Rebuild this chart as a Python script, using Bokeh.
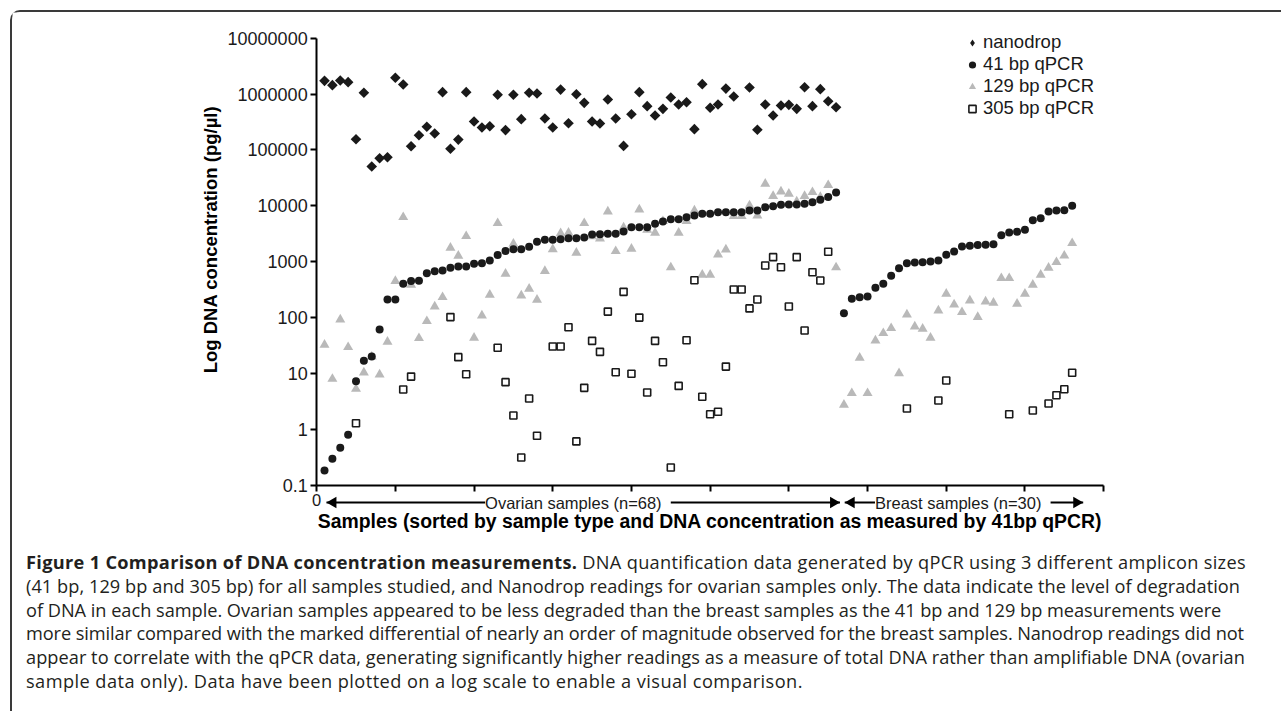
import numpy as np
from bokeh.plotting import figure
from bokeh.models import (ColumnDataSource, Range1d, FixedTicker, CustomJSTickFormatter,
                          Legend, LegendItem, Label, Div)
from bokeh.layouts import column
from bokeh.embed import file_html
from bokeh.resources import INLINE

nan = float("nan")

# ---------------- data ----------------
ovarian_samples = list(range(1, 67))
breast_samples = list(range(67, 97))

nanodrop_ovarian = [
    1.72e6, 1.44e6, 1.74e6, 1.63e6, 1.55e5, 1.05e6, 5.05e4, 7.1e4, 7.4e4, 1.95e6,
    1.48e6, 1.16e5, 1.83e5, 2.59e5, 1.96e5, 1.08e6, 1.05e5, 1.53e5, 1.08e6, 3.22e5,
    2.52e5, 2.65e5, 9.7e5, 2.26e5, 9.7e5, 3.55e5, 1.05e6, 1.02e6, 3.65e5, 2.52e5,
    1.2e6, 3.0e5, 9.9e5, 6.95e5, 3.22e5, 2.97e5, 7.97e5, 3.65e5, 1.18e5, 4.35e5,
    1.08e6, 6.06e5, 4.12e5, 5.43e5, 8.65e5, 6.49e5, 7.13e5, 2.35e5, 1.5e6, 5.66e5,
    6.49e5, 1.25e6, 9.0e5, nan, 1.31e6, 2.29e5, 6.49e5, 4.12e5, 6.22e5, 6.4e5,
    5.43e5, 1.32e6, 6.06e5, 1.22e6, 7.43e5, 5.8e5]

qpcr41_ovarian = [
    0.184, 0.30, 0.47, 0.80, 7.3, 16.9, 20.1, 61, 211, 211,
    403, 450, 455, 624, 677, 696, 778, 820, 820, 916,
    939, 1050, 1320, 1550, 1675, 1675, 1845, 2270, 2467, 2467,
    2530, 2630, 2630, 2710, 3080, 3100, 3150, 3160, 3470, 4140,
    4140, 4140, 4760, 5240, 5760, 5760, 6250, 6700, 7190, 7190,
    7690, 7690, 7690, 7690, 8240, 8240, 9440, 9840, 10400, 10550,
    10550, 10850, 11600, 12800, 14300, 17300]
qpcr41_breast = [
    120, 217, 232, 238, 341, 403, 560, 766, 940, 968,
    982, 1010, 1050, 1335, 1521, 1870, 1925, 1980, 2005, 2060,
    2980, 3330, 3430, 3720, 5520, 6000, 7900, 8240, 8340, 10000]

qpcr129_ovarian = [
    32.6, 8.0, 92.5, 29.5, 5.3, 10.4, 20, 9.6, 36.9, 449,
    6250, 386, 42.8, 86.3, 158, 232, 1776, 1275, 2860, 43.5,
    109, 256, 4890, 608, 2090, 248, 327, 208, 680, 1670,
    3220, 3290, 1442, 4890, 2825, 2600, 7900, 1543, 4090, 1703,
    8590, 3720, 3290, 5310, 790, 3290, 5310, 8240, 584, 584,
    1345, 1650, 6520, 6520, 10100, 6700, 24700, 14900, 18000, 16400,
    11900, 14900, 17500, 14300, 23400, 790]
qpcr129_breast = [
    2.75, 4.45, 19.1, 4.45, 38.9, 52.6, 64.6, 10.1, 113, 69.3,
    63, 43.5, 134, 267, 171, 125, 202, 102, 194, 184,
    507, 507, 177, 267, 386, 584, 778, 980, 1280, 2140]

qpcr305_ovarian = [
    nan, nan, nan, nan, 1.29, nan, nan, nan, nan, nan,
    5.18, 8.8, nan, nan, nan, nan, 102, 19.6, 9.7, nan,
    nan, nan, 28.8, 7.0, 1.77, 0.314, 3.57, 0.77, nan, 30.4,
    30.4, 67.3, 0.61, 5.54, 38.4, 24.4, 128, 10.5, 289, 9.9,
    100, 4.57, 38.4, 15.9, 0.208, 6.0, 39.4, 467, 3.83, 1.87,
    2.07, 13.3, 319, 319, 146, 211, 855, 1205, 798, 158,
    1205, 58.8, 649, 462, 1510, nan]
qpcr305_breast = [
    nan, nan, nan, nan, nan, nan, nan, nan, 2.37, nan,
    nan, nan, 3.29, 7.5, nan, nan, nan, nan, nan, nan,
    nan, 1.87, nan, nan, 2.18, nan, 2.90, 4.09, 5.24, 10.3]

series_names = ["nanodrop", "41 bp qPCR", "129 bp qPCR", "305 bp qPCR"]

y_tick_values = [0.1, 1, 10, 100, 1000, 10000, 100000, 1000000, 10000000]
y_tick_labels = ["0.1", "1", "10", "100", "1000", "10000", "100000", "1000000", "10000000"]
x_tick_values = [0, 10, 20, 30, 40, 50, 60, 70, 80, 90, 100]
x_tick_labels = ["0", "", "", "", "", "", "", "", "", "", ""]

group_labels = ["Ovarian samples (n=68)", "Breast samples (n=30)"]
group_spans = [(1.25, 66.5), (67.1, 97.4)]      # extent of each group arrow (sample axis units)
group_label_x = [33.2, 82.1]

y_title = "Log DNA concentration (pg/µl)"
x_title = "Samples (sorted by sample type and DNA concentration as measured by 41bp qPCR)"

caption_title = "Figure 1 Comparison of DNA concentration measurements."
caption_lines = [
    " DNA quantification data generated by qPCR using 3 different amplicon sizes",
    "(41 bp, 129 bp and 305 bp) for all samples studied, and Nanodrop readings for ovarian samples only. The data indicate the level of degradation",
    "of DNA in each sample. Ovarian samples appeared to be less degraded than the breast samples as the 41 bp and 129 bp measurements were",
    "more similar compared with the marked differential of nearly an order of magnitude observed for the breast samples. Nanodrop readings did not",
    "appear to correlate with the qPCR data, generating significantly higher readings as a measure of total DNA rather than amplifiable DNA (ovarian",
    "sample data only). Data have been plotted on a log scale to enable a visual comparison.",
]
caption_letter_spacing = [0.31, 0.05, -0.02, -0.10, 0.035, 0.44]   # px, per line (typesetting)

# ---------------- layout constants (pixels) ----------------
FIG_W, FIG_H = 1269, 534
PX_PER_DECADE = 55.9
PX_PER_SAMPLE = 7.87
X0_PX = 304.15               # where sample 0 sits, from the figure's left edge
TOP_PAD = 25.6               # from figure top to the 10^7 tick
ARROW_ROW = 490              # from figure top to the group arrows
log_top = 7 + TOP_PAD / PX_PER_DECADE
log_bot = log_top - FIG_H / PX_PER_DECADE
arrow_y = 10 ** (log_top - ARROW_ROW / PX_PER_DECADE)
head_off = 0.84              # arrow-head centre offset from its tip (sample units)

FONT = "Liberation Sans"
INK = "#1a1a1a"


def src(xs, ys):
    xs = np.asarray(xs, dtype=float)
    ys = np.asarray(ys, dtype=float)
    m = ~np.isnan(ys)
    return ColumnDataSource(dict(x=xs[m], y=ys[m]))


p = figure(frame_width=FIG_W, frame_height=FIG_H, min_border=0,
           x_range=Range1d(-X0_PX / PX_PER_SAMPLE, (FIG_W - X0_PX) / PX_PER_SAMPLE),
           y_range=Range1d(10 ** log_bot, 10 ** log_top),
           y_axis_type="log", output_backend="svg", toolbar_location=None)
p.grid.visible = False
p.outline_line_color = None

all_x = ovarian_samples + breast_samples
r129 = p.scatter("x", "y", source=src(all_x, qpcr129_ovarian + qpcr129_breast), marker="triangle",
                 size=10, fill_color="#b9b9b9", line_color=None)
r41 = p.scatter("x", "y", source=src(all_x, qpcr41_ovarian + qpcr41_breast), marker="circle",
                size=8, fill_color=INK, line_color=None)
r305 = p.scatter("x", "y", source=src(all_x, qpcr305_ovarian + qpcr305_breast), marker="square",
                 size=7, fill_color="white", line_color=INK, line_width=1.6)
nd_src = src(ovarian_samples, nanodrop_ovarian)
rnd = p.scatter("x", "y", source=nd_src, marker="square", angle=np.pi / 4, size=7.5,
                fill_color=INK, line_color=None)
# inner diamond (hidden under the rotated squares) that gives the legend its diamond glyph
rnd_key = p.scatter("x", "y", source=nd_src, marker="diamond", size=6.5,
                    fill_color=INK, line_color=None)

# axes
for ax in (p.xaxis[0], p.yaxis[0]):
    ax.axis_line_width = 2
    ax.axis_line_color = "black"
    ax.major_tick_line_width = 2
    ax.major_tick_line_color = "black"
    ax.major_tick_out = 6
    ax.major_tick_in = 0
    ax.minor_tick_line_color = None
    ax.major_label_text_font = FONT
    ax.major_label_text_color = INK

p.yaxis.ticker = FixedTicker(ticks=y_tick_values)
p.yaxis.fixed_location = x_tick_values[0]
p.yaxis.bounds = (y_tick_values[0], y_tick_values[-1])
p.yaxis.formatter = CustomJSTickFormatter(args=dict(vals=y_tick_values, labs=y_tick_labels), code="""
const i = vals.findIndex(v => Math.abs(Math.log10(v) - Math.log10(tick)) < 1e-6);
return i >= 0 ? labs[i] : '';""")
p.yaxis.major_label_text_font_size = "18px"
p.yaxis.major_label_standoff = 3

p.xaxis.ticker = FixedTicker(ticks=x_tick_values)
p.xaxis.fixed_location = y_tick_values[0]
p.xaxis.bounds = (x_tick_values[0], x_tick_values[-1])
p.xaxis.formatter = CustomJSTickFormatter(args=dict(vals=x_tick_values, labs=x_tick_labels), code="""
const i = vals.findIndex(v => Math.abs(v - tick) < 1e-6);
return i >= 0 ? labs[i] : '';""")
p.xaxis.major_label_text_font_size = "16.5px"
p.xaxis.major_label_standoff = 3
p.xaxis.axis_label = x_title
p.xaxis.axis_label_standoff = 0
p.xaxis.axis_label_text_font = FONT
p.xaxis.axis_label_text_font_style = "bold"
p.xaxis.axis_label_text_color = "black"
p.xaxis.axis_label_text_font_size = "19.4px"

# y title (placed like the original, off-centre of the axis)
p.add_layout(Label(x=198, y=307, x_units="screen", y_units="screen", text=y_title,
                   angle=np.pi / 2, text_align="center", text_baseline="middle",
                   text_font=FONT, text_font_style="bold", text_font_size="18.5px",
                   text_color="black"))

# group arrows under the axis
p.segment(x0=[s for s, e in group_spans], x1=[e for s, e in group_spans],
          y0=[arrow_y] * 2, y1=[arrow_y] * 2, line_width=2, line_color="black")
head_x, head_angle = [], []
for s, e in group_spans:
    head_x += [s + head_off, e - head_off]
    head_angle += [np.pi / 2, -np.pi / 2]
p.scatter(x=head_x, y=[arrow_y] * len(head_x), angle=head_angle, marker="triangle", size=11.5,
          fill_color="black", line_color=None)
for xc, lab in zip(group_label_x, group_labels):
    p.add_layout(Label(x=xc, y=arrow_y, text=" " + lab + " ", text_align="center",
                       text_baseline="middle", text_font=FONT, text_font_size="16.5px",
                       text_color=INK, background_fill_color="white"))

legend = Legend(items=[LegendItem(label=series_names[0], renderers=[rnd_key]),
                       LegendItem(label=series_names[1], renderers=[r41]),
                       LegendItem(label=series_names[2], renderers=[r129]),
                       LegendItem(label=series_names[3], renderers=[r305])],
                location=(951, 427), orientation="vertical", padding=0, margin=0, spacing=0,
                glyph_width=18, glyph_height=21, label_height=21, label_standoff=2,
                label_text_font=FONT, label_text_font_size="18.5px", label_text_color=INK,
                border_line_color=None, background_fill_alpha=0)
p.add_layout(legend)

rows = []
for i, (line, ls) in enumerate(zip(caption_lines, caption_letter_spacing)):
    body = ("<b>" + caption_title + "</b>" + line) if i == 0 else line
    rows.append("<div style=\"letter-spacing:%.2fpx\">%s</div>" % (ls, body))
html = ("<div style=\"font-family:'Open Sans'; font-size:18.2px; line-height:23.8px; color:#231f20;"
        " white-space:nowrap; padding-left:9px;\">" + "".join(rows) + "</div>")
cap = Div(text=html, width=FIG_W, height=165)

layout = column(p, cap, margin=(10, 0, 0, 10),
                styles={"border-top": "2px solid #3a3a3a", "border-left": "2px solid #3a3a3a",
                        "border-top-left-radius": "10px"})

open("out.html", "w").write(file_html(layout, INLINE))
